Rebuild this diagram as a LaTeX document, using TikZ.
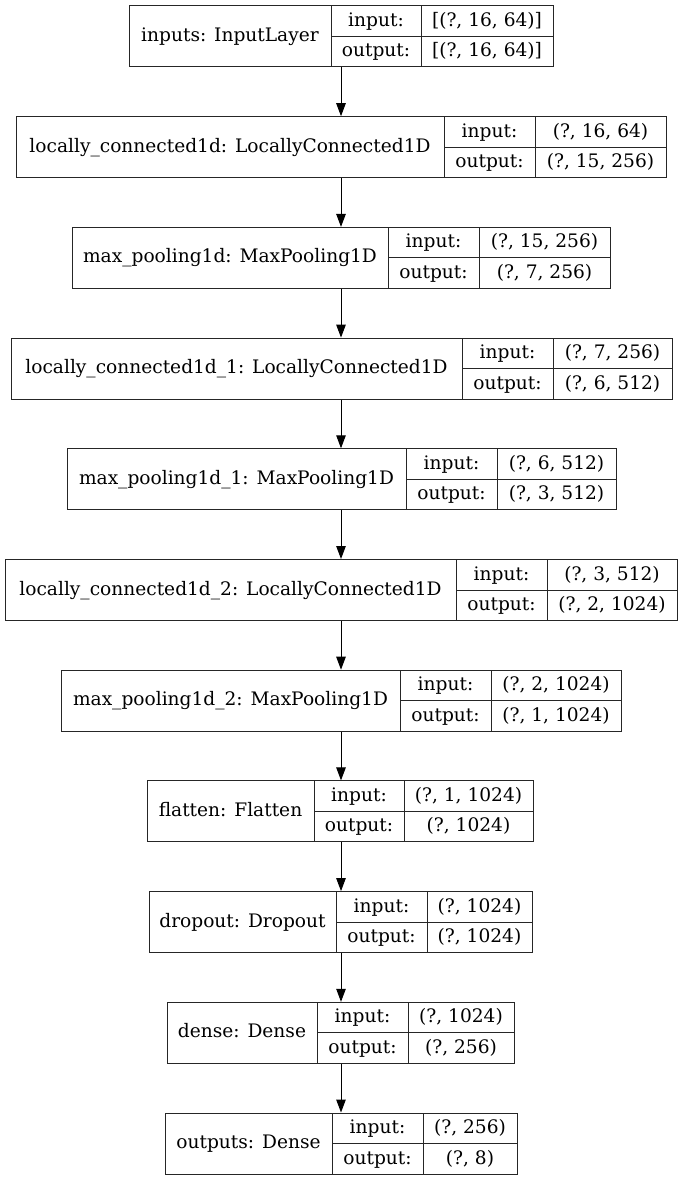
\documentclass[tikz,border=0pt]{standalone}
\usepackage{fontspec}
\setmainfont{DejaVu Serif}
\usetikzlibrary{arrows.meta}
\tikzset{
  lbox/.style={draw=black!85, line width=1pt, rectangle, inner sep=0pt},
  cell/.style={draw=black!85, line width=1pt},
  txt/.style={inner sep=0pt, text height=13.5pt, text depth=3.5pt, font=\fontsize{18.6}{20}\selectfont},
  arr/.style={draw=black, line width=1pt, -{Triangle[length=13pt,width=9.5pt]}}
}
% #1 name, #2 top, #3 left, #4 d1, #5 d2, #6 right, #7 label, #8 in, #9 out
\newcommand\klayer[9]{%
  \node[lbox, minimum width={(#6-#3)*1pt}, minimum height=61pt] (#1) at ({(#3+#6)/2},{#2+30.5}) {};
  \draw[cell] (#4,#2) -- (#4,#2+61);
  \draw[cell] (#5,#2) -- (#5,#2+61);
  \draw[cell] (#4,#2+30.5) -- (#6,#2+30.5);
  \node[txt] (#1-lab) at ({(#3+#4)/2},{#2+30.5}) {#7};
  \node[txt] (#1-ik) at ({(#4+#5)/2},{#2+15.5}) {input:};
  \node[txt] (#1-ok) at ({(#4+#5)/2},{#2+46}) {output:};
  \node[txt] (#1-iv) at ({(#5+#6)/2},{#2+15.5}) {#8};
  \node[txt] (#1-ov) at ({(#5+#6)/2},{#2+46}) {#9};
}
\begin{document}
\begin{tikzpicture}[x=1pt,y=-1pt]
\useasboundingbox (0,0) rectangle (683,1180);
\coordinate (ax) at (341,0);
\klayer{L1}{6}{129}{331}{421}{553}{inputs: InputLayer}{[(?, 16, 64)]}{[(?, 16, 64)]}
\klayer{L2}{116.7}{16}{444}{535}{666}{locally\_connected1d: LocallyConnected1D}{(?, 16, 64)}{(?, 15, 256)}
\klayer{L3}{227.4}{72}{388}{479}{610}{max\_pooling1d: MaxPooling1D}{(?, 15, 256)}{(?, 7, 256)}
\klayer{L4}{338.1}{11}{462}{553}{672}{locally\_connected1d\_1: LocallyConnected1D}{(?, 7, 256)}{(?, 6, 512)}
\klayer{L5}{448.8}{67}{406}{497}{616}{max\_pooling1d\_1: MaxPooling1D}{(?, 6, 512)}{(?, 3, 512)}
\klayer{L6}{559.5}{5}{456}{547}{677}{locally\_connected1d\_2: LocallyConnected1D}{(?, 3, 512)}{(?, 2, 1024)}
\klayer{L7}{670.2}{61}{400}{491}{621}{max\_pooling1d\_2: MaxPooling1D}{(?, 2, 1024)}{(?, 1, 1024)}
\klayer{L8}{780.9}{147}{314}{404}{533}{flatten: Flatten}{(?, 1, 1024)}{(?, 1024)}
\klayer{L9}{891.6}{149}{336}{427}{532}{dropout: Dropout}{(?, 1024)}{(?, 1024)}
\klayer{L10}{1002.3}{167}{317}{408}{514}{dense: Dense}{(?, 1024)}{(?, 256)}
\klayer{L11}{1113}{165}{332}{423}{517}{outputs: Dense}{(?, 256)}{(?, 8)}
\draw[arr] (L1.south -| ax) -- (L2.north -| ax);
\draw[arr] (L2.south -| ax) -- (L3.north -| ax);
\draw[arr] (L3.south -| ax) -- (L4.north -| ax);
\draw[arr] (L4.south -| ax) -- (L5.north -| ax);
\draw[arr] (L5.south -| ax) -- (L6.north -| ax);
\draw[arr] (L6.south -| ax) -- (L7.north -| ax);
\draw[arr] (L7.south -| ax) -- (L8.north -| ax);
\draw[arr] (L8.south -| ax) -- (L9.north -| ax);
\draw[arr] (L9.south -| ax) -- (L10.north -| ax);
\draw[arr] (L10.south -| ax) -- (L11.north -| ax);
\end{tikzpicture}
\end{document}
